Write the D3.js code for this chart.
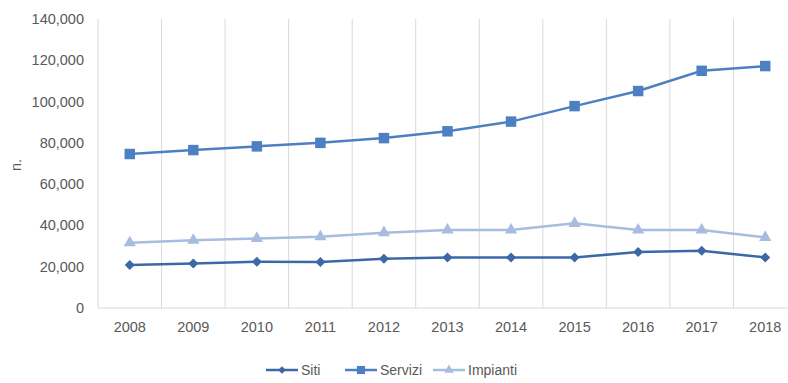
<!DOCTYPE html>
<html>
<head>
<meta charset="UTF-8">
<script src="https://d3js.org/d3.v7.min.js"></script>
<style>
  body { margin: 0; background: #fff; }
  text { font-family: "Liberation Sans", Arial, sans-serif; fill: #595959; }
</style>
</head>
<body>
<div id="chart"></div>
<script>
// dati
const anni = ["2008","2009","2010","2011","2012","2013","2014","2015","2016","2017","2018"];
const siti = [20800, 21600, 22400, 22300, 23900, 24500, 24500, 24500, 27100, 27700, 24500];
const servizi = [74600, 76500, 78300, 80000, 82300, 85600, 90300, 97800, 105100, 114900, 117200];
const impianti = [31600, 32800, 33700, 34500, 36500, 37800, 37800, 41000, 37800, 37800, 34200];
const yTicks = [0, 20000, 40000, 60000, 80000, 100000, 120000, 140000];

const width = 788, height = 383;
const margin = {left: 98, right: -9, top: 19, bottom: 75};

const svg = d3.select("#chart").append("svg")
  .attr("width", width)
  .attr("height", height);

const x = d3.scaleBand()
  .domain(anni)
  .range([margin.left, width - margin.right]);

const y = d3.scaleLinear()
  .domain([0, 140000])
  .range([height - margin.bottom, margin.top]);

// griglia verticale
svg.append("g")
  .selectAll("line")
  .data(anni)
  .enter().append("line")
  .attr("x1", d => x(d))
  .attr("x2", d => x(d))
  .attr("y1", y(140000))
  .attr("y2", y(0))
  .attr("stroke", "#d9d9d9")
  .attr("stroke-width", 1);

// asse x
svg.append("line")
  .attr("x1", margin.left)
  .attr("x2", width)
  .attr("y1", y(0))
  .attr("y2", y(0))
  .attr("stroke", "#d9d9d9");

svg.append("g")
  .selectAll("text")
  .data(anni)
  .enter().append("text")
  .attr("x", d => x(d) + x.bandwidth() / 2)
  .attr("y", y(0) + 24)
  .attr("text-anchor", "middle")
  .style("font-size", "14.5px")
  .text(d => d);

// asse y
svg.append("g")
  .selectAll("text")
  .data(yTicks)
  .enter().append("text")
  .attr("x", 84)
  .attr("y", d => y(d) + 5)
  .attr("text-anchor", "end")
  .style("font-size", "14.5px")
  .text(d => d3.format(",")(d));

svg.append("text")
  .attr("transform", "translate(21," + 165 + ") rotate(-90)")
  .attr("text-anchor", "middle")
  .style("font-size", "14.5px")
  .text("n.");

const serie = [
  {nome: "Siti", valori: siti, colore: "#3d68a6", forma: d3.symbolSquare, dim: 50, rot: 45},
  {nome: "Servizi", valori: servizi, colore: "#4d80c3", forma: d3.symbolSquare, dim: 110, rot: 0},
  {nome: "Impianti", valori: impianti, colore: "#a7bde0", forma: d3.symbolTriangle, dim: 65, rot: 0}
];

const cx = d => x(d) + x.bandwidth() / 2;

serie.slice().reverse().forEach(function(s) {
  const line = d3.line()
    .x((d, i) => cx(anni[i]))
    .y(d => y(d));
  svg.append("path")
    .datum(s.valori)
    .attr("d", line)
    .attr("fill", "none")
    .attr("stroke", s.colore)
    .attr("stroke-width", 2.5);
  svg.append("g")
    .selectAll("path")
    .data(s.valori)
    .enter().append("path")
    .attr("d", d3.symbol().type(s.forma).size(s.dim))
    .attr("transform", (d, i) => "translate(" + cx(anni[i]) + "," + y(d) + ") rotate(" + s.rot + ")")
    .attr("fill", s.colore);
});

// legenda
const legendX = [266, 345, 433];
const legend = svg.append("g");
serie.forEach(function(s, i) {
  const g = legend.append("g").attr("transform", "translate(" + legendX[i] + ",370)");
  g.append("line")
    .attr("x1", 0).attr("x2", 32)
    .attr("stroke", s.colore).attr("stroke-width", 2.5);
  g.append("path")
    .attr("d", d3.symbol().type(s.forma).size(s.dim * 0.6))
    .attr("transform", "translate(16,0) rotate(" + s.rot + ")")
    .attr("fill", s.colore);
  g.append("text")
    .attr("x", 35).attr("y", 5)
    .style("font-size", "14px")
    .text(s.nome);
});
</script>
</body>
</html>
